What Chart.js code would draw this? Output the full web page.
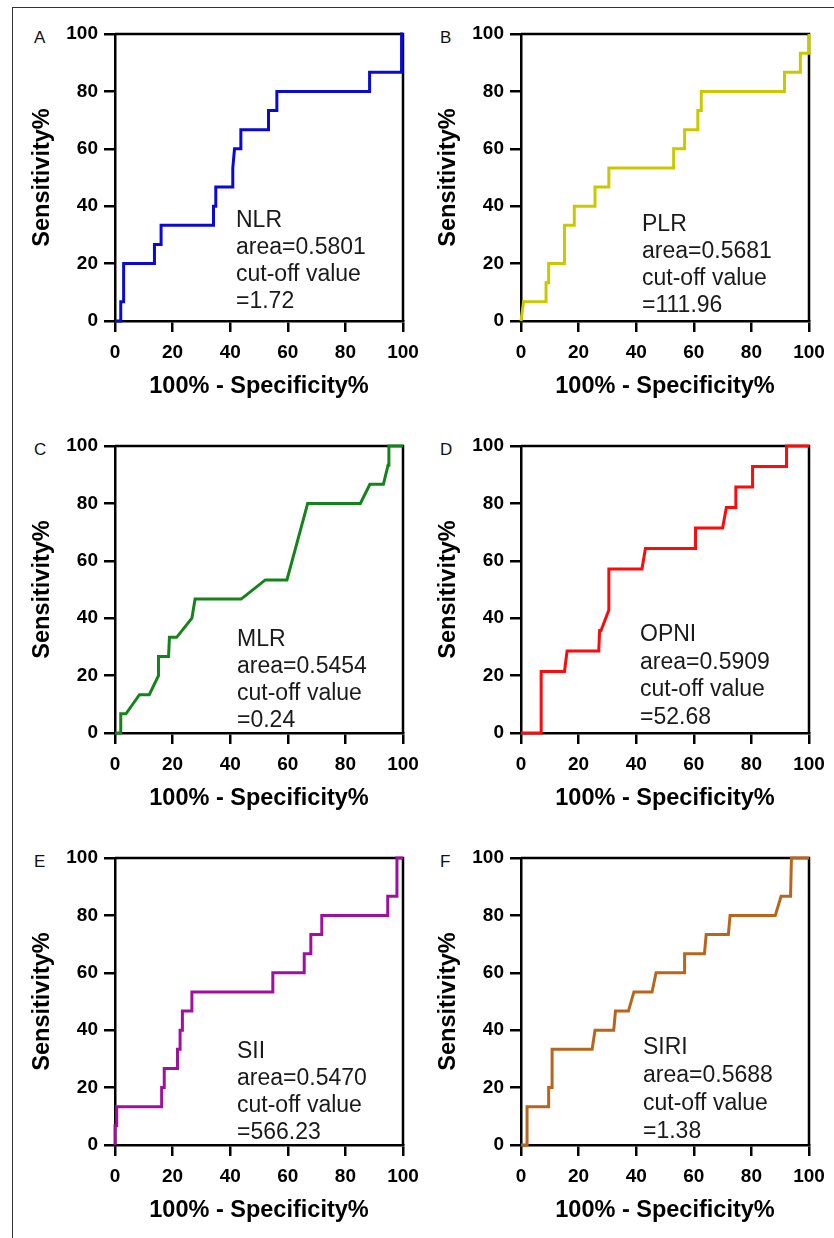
<!DOCTYPE html>
<html>
<head>
<meta charset="utf-8">
<title>ROC curves</title>
<script src="https://cdn.jsdelivr.net/npm/chart.js@4.4.0/dist/chart.umd.min.js"></script>
<style>
  html, body { margin: 0; padding: 0; background: #fff; }
  body { width: 834px; height: 1238px; position: relative; overflow: hidden; font-family: "Liberation Sans", Arial, sans-serif; }
  .frame { position: absolute; left: 12px; top: 7px; width: 900px; height: 1300px; border-left: 1.5px solid #333; border-top: 1.5px solid #333; }
  .panel { position: absolute; width: 405px; height: 391px; }
  .letter { position: absolute; font-size: 17px; color: #111; line-height: 20px; }
</style>
</head>
<body>
<div class="frame"></div>

<div class="letter" style="left:34px; top:28px;">A</div>
<div class="letter" style="left:440px; top:28px;">B</div>
<div class="letter" style="left:34px; top:440px;">C</div>
<div class="letter" style="left:440px; top:440px;">D</div>
<div class="letter" style="left:34px; top:852px;">E</div>
<div class="letter" style="left:440px; top:852px;">F</div>

<div class="panel" style="left:20px; top:20px;"><canvas id="rocA" width="405" height="391"></canvas></div>
<div class="panel" style="left:426px; top:20px;"><canvas id="rocB" width="405" height="391"></canvas></div>
<div class="panel" style="left:20px; top:432px;"><canvas id="rocC" width="405" height="391"></canvas></div>
<div class="panel" style="left:426px; top:432px;"><canvas id="rocD" width="405" height="391"></canvas></div>
<div class="panel" style="left:20px; top:844px;"><canvas id="rocE" width="405" height="391"></canvas></div>
<div class="panel" style="left:426px; top:844px;"><canvas id="rocF" width="405" height="391"></canvas></div>

<script>
// ROC curve vertices (x = 100% - specificity, y = sensitivity)
const nlrX = [0, 2, 2, 3, 3, 13.7, 13.7, 16, 16, 34.2, 34.2, 35, 35, 40.9, 40.9, 41.5, 43.7, 43.7, 53.3, 53.3, 56.2, 56.2, 88.4, 88.4, 99.5, 99.5, 100];
const nlrY = [0, 0, 6.67, 6.67, 20, 20, 26.67, 26.67, 33.33, 33.33, 40, 40, 46.67, 46.67, 53.33, 60, 60, 66.67, 66.67, 73.33, 73.33, 80, 80, 86.67, 86.67, 100, 100];

const plrX = [0, 0.9, 8.7, 8.7, 9.6, 9.6, 15.1, 15.1, 18.5, 18.5, 25.7, 25.7, 30.5, 30.5, 53, 53, 56.8, 56.8, 61.4, 61.4, 62.6, 62.6, 91.5, 91.5, 97, 97, 100, 100];
const plrY = [0, 6.67, 6.67, 13.33, 13.33, 20, 20, 33.33, 33.33, 40, 40, 46.67, 46.67, 53.33, 53.33, 60, 60, 66.67, 66.67, 73.33, 73.33, 80, 80, 86.67, 86.67, 93.33, 93.33, 100];

const mlrX = [0, 2, 2, 3.8, 8.5, 11.9, 15.1, 15.1, 18.6, 18.9, 21.4, 26.7, 27.8, 43.8, 52.2, 59.7, 66.9, 85.2, 88.5, 93.2, 94.8, 95.1, 100];
const mlrY = [0, 0, 6.67, 6.67, 13.33, 13.33, 20, 26.67, 26.67, 33.33, 33.33, 40, 46.67, 46.67, 53.33, 53.33, 80, 80, 86.67, 86.67, 93.33, 100, 100];

const opniX = [0, 7, 7, 15.1, 16, 27, 27.3, 27.8, 30.5, 30.5, 42, 43.2, 60.6, 60.6, 70, 71.3, 74.6, 74.6, 80.4, 80.4, 92.2, 92.2, 100];
const opniY = [0, 0, 21.43, 21.43, 28.57, 28.57, 35.71, 35.71, 42.86, 57.14, 57.14, 64.29, 64.29, 71.43, 71.43, 78.57, 78.57, 85.71, 85.71, 92.86, 92.86, 100, 100];

const siiX = [0, 0, 0.6, 0.6, 16.2, 16.2, 17.1, 17.1, 21.7, 21.7, 22.6, 22.6, 23.4, 23.4, 26.7, 26.7, 54.8, 54.8, 65.7, 65.7, 68, 68, 71.8, 71.8, 94.7, 94.7, 97.9, 97.9, 100];
const siiY = [0, 6.67, 6.67, 13.33, 13.33, 20, 20, 26.67, 26.67, 33.33, 33.33, 40, 40, 46.67, 46.67, 53.33, 53.33, 60, 60, 66.67, 66.67, 73.33, 73.33, 80, 80, 86.67, 86.67, 100, 100];

const siriX = [0, 2.1, 2.1, 9.6, 9.6, 10.8, 10.8, 24.7, 25.7, 32.2, 32.8, 37.3, 39.2, 45.5, 46.9, 56.8, 56.8, 63.7, 64.3, 72, 72.6, 88.3, 90.3, 93.6, 93.9, 100];
const siriY = [0, 0, 13.33, 13.33, 20, 20, 33.33, 33.33, 40, 40, 46.67, 46.67, 53.33, 53.33, 60, 60, 66.67, 66.67, 73.33, 73.33, 80, 80, 86.67, 86.67, 100, 100];

// axis ticks
const tickValues = [0, 20, 40, 60, 80, 100];

// text in each panel
const nlrText = ['NLR', 'area=0.5801', 'cut-off value', '=1.72'];
const plrText = ['PLR', 'area=0.5681', 'cut-off value', '=111.96'];
const mlrText = ['MLR', 'area=0.5454', 'cut-off value', '=0.24'];
const opniText = ['OPNI', 'area=0.5909', 'cut-off value', '=52.68'];
const siiText = ['SII', 'area=0.5470', 'cut-off value', '=566.23'];
const siriText = ['SIRI', 'area=0.5688', 'cut-off value', '=1.38'];

const FONT = '"Liberation Sans", Arial, Helvetica, sans-serif';
Chart.defaults.font.family = FONT;

// draws the top and right sides of the plot box
const boxPlugin = {
    id: 'box',
    beforeDatasetsDraw(chart) {
        const { ctx, chartArea: a } = chart;
        ctx.save();
        ctx.strokeStyle = '#000';
        ctx.lineWidth = 2.5;
        ctx.beginPath();
        ctx.moveTo(a.left, a.top);
        ctx.lineTo(a.right, a.top);
        ctx.lineTo(a.right, a.bottom);
        ctx.stroke();
        ctx.restore();
    }
};

// the label block inside each plot
const notePlugin = {
    id: 'note',
    afterDraw(chart, args, opts) {
        const { ctx, chartArea: a } = chart;
        ctx.save();
        ctx.font = '23px ' + FONT;
        ctx.fillStyle = '#1a1a1a';
        ctx.textBaseline = 'middle';
        ctx.textAlign = 'left';
        opts.lines.forEach((line, i) => {
            ctx.fillText(line, a.left + opts.dx, a.top + opts.dy + i * opts.gap);
        });
        ctx.restore();
    }
};

function axis(titleText, isX) {
    return {
        type: 'linear',
        min: 0,
        max: 100,
        afterBuildTicks: s => { s.ticks = tickValues.map(v => ({ value: v })); },
        afterFit: s => {
            // fixed axis boxes, and no automatic label overflow padding
            if (isX) {
                s.height = 90;
                s.paddingLeft = 0;
                s.paddingRight = 0;
            } else {
                s.width = 95;
                s.paddingTop = 0;
                s.paddingBottom = 0;
            }
        },
        ticks: {
            color: '#000',
            padding: isX ? 9 : 6,
            maxRotation: 0,
            font: { size: 19, weight: 'bold' }
        },
        grid: {
            display: true,
            drawOnChartArea: false,
            drawTicks: true,
            tickLength: 11,
            color: '#000',
            lineWidth: 2.5
        },
        border: { display: true, color: '#000', width: 2.5 },
        title: {
            display: true,
            text: titleText,
            color: '#000',
            font: { size: 23.5, weight: 'bold' },
            padding: isX ? { top: 0, bottom: 10 } : { top: 8, bottom: 0 }
        }
    };
}

function makeRoc(id, xs, ys, color, lines, dx, dy, gap) {
    const ctx = document.getElementById(id);
    return new Chart(ctx, {
        type: 'scatter',
        data: {
            datasets: [{
                data: xs.map((x, i) => ({ x: x, y: ys[i] })),
                showLine: true,
                borderColor: color,
                backgroundColor: color,
                borderWidth: 3,
                pointRadius: 0,
                tension: 0,
                clip: false
            }]
        },
        options: {
            responsive: false,
            animation: false,
            layout: { padding: { top: 14, right: 22, left: 0, bottom: 0 } },
            plugins: {
                legend: { display: false },
                tooltip: { enabled: false },
                note: { lines: lines, dx: dx, dy: dy, gap: gap }
            },
            scales: {
                x: axis('100% - Specificity%', true),
                y: axis('Sensitivity%', false)
            }
        },
        plugins: [boxPlugin, notePlugin]
    });
}

makeRoc('rocA', nlrX, nlrY, '#0a0ad2', nlrText, 121, 187, 27);
makeRoc('rocB', plrX, plrY, '#c9c900', plrText, 121, 191, 27);
makeRoc('rocC', mlrX, mlrY, '#14841a', mlrText, 122, 194, 27);
makeRoc('rocD', opniX, opniY, '#ff0a0a', opniText, 119, 189, 27.5);
makeRoc('rocE', siiX, siiY, '#a0109e', siiText, 122, 194, 27);
makeRoc('rocF', siriX, siriY, '#b8661c', siriText, 122, 190, 28);
</script>
</body>
</html>
